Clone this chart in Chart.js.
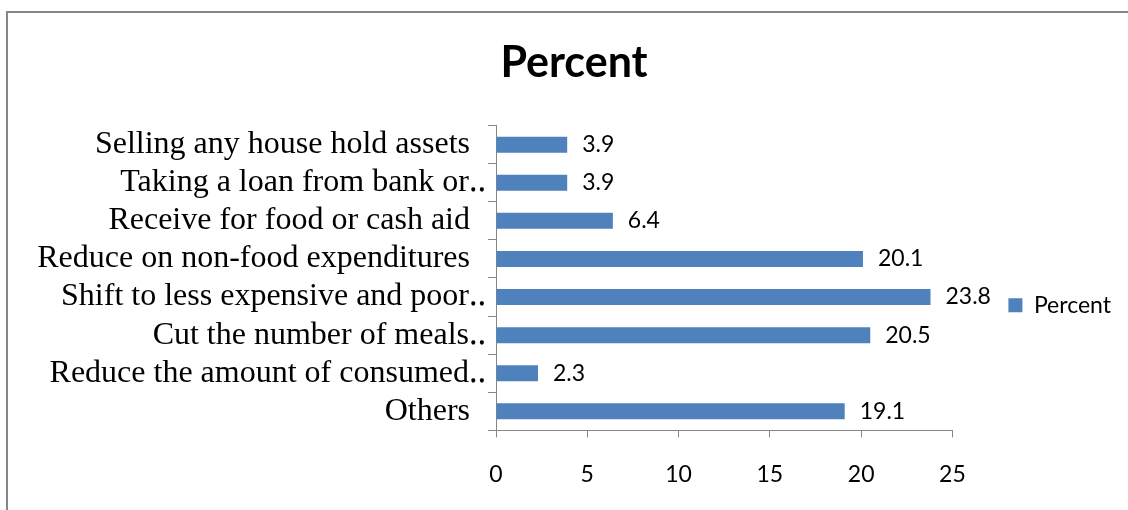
<!DOCTYPE html>
<html>
<head>
<meta charset="utf-8">
<script src="https://cdn.jsdelivr.net/npm/chart.js@4.4.1/dist/chart.umd.min.js"></script>
<style>
  html, body { margin: 0; padding: 0; background: #fff; overflow: hidden; }
  #frame { position: absolute; left: 6px; top: 11px; width: 1200px; height: 600px;
           border-left: 2px solid #878787; border-top: 2px solid #878787; pointer-events: none; }
  #chart { position: absolute; left: 0; top: 0; }
</style>
</head>
<body>
<canvas id="chart" width="1128" height="510"></canvas>
<div id="frame"></div>
<script>
var categories = [
    'Selling any house hold assets  ',
    'Taking a loan from bank or\u2025',
    'Receive for food or cash aid  ',
    'Reduce on non-food expenditures  ',
    'Shift to less expensive and poor\u2025',
    'Cut the number of meals\u2025',
    'Reduce the amount of consumed\u2025',
    'Others  '
];
var percent = [3.9, 3.9, 6.4, 20.1, 23.8, 20.5, 2.3, 19.1];
var xTicks = [0, 5, 10, 15, 20, 25];

var axisGrey = '#878787';
var barBlue = '#4f81bd';

// value labels to the right of each bar
var valueLabels = {
    id: 'valueLabels',
    afterDatasetsDraw: function (chart) {
        var ctx = chart.ctx;
        var meta = chart.getDatasetMeta(0);
        ctx.save();
        ctx.font = '23px Lato';
        ctx.fillStyle = '#000';
        ctx.textAlign = 'left';
        ctx.textBaseline = 'middle';
        meta.data.forEach(function (bar, i) {
            ctx.fillText(percent[i].toFixed(1), bar.x + 15, bar.y);
        });
        ctx.restore();
    }
};

var ctx = document.getElementById('chart');

var chart = new Chart(ctx, {
    type: 'bar',
    data: {
        labels: categories,
        datasets: [{
            label: 'Percent',
            data: percent,
            backgroundColor: barBlue,
            borderColor: barBlue,
            borderWidth: 0,
            barPercentage: 0.42,
            categoryPercentage: 1
        }]
    },
    options: {
        indexAxis: 'y',
        responsive: false,
        animation: false,
        layout: {
            padding: { left: 27, right: 7, top: 0, bottom: -1 }
        },
        scales: {
            x: {
                min: xTicks[0],
                max: xTicks[xTicks.length - 1],
                afterBuildTicks: function (scale) {
                    scale.ticks = xTicks.map(function (v) { return { value: v }; });
                },
                grid: { drawOnChartArea: false, color: axisGrey, tickLength: 7 },
                border: { color: axisGrey, width: 1 },
                ticks: {
                    color: '#000',
                    padding: 23,
                    font: { family: 'Lato', size: 23 }
                }
            },
            y: {
                afterFit: function (scale) { scale.width = 469; },
                grid: { drawOnChartArea: false, color: axisGrey, tickLength: 8, offset: true },
                border: { color: axisGrey, width: 1 },
                ticks: {
                    color: '#000',
                    padding: 2,
                    autoSkip: false,
                    font: { family: 'Liberation Serif', size: 32 }
                }
            }
        },
        plugins: {
            title: {
                display: true,
                text: 'Percent',
                color: '#000',
                font: { family: 'Lato', size: 43, weight: 'bold' },
                padding: { top: 37, bottom: 37 }
            },
            legend: {
                display: true,
                position: 'right',
                fullSize: false,
                title: { display: true, text: ' ', font: { size: 12 }, padding: 20 },
                labels: {
                    color: '#000',
                    boxWidth: 14,
                    boxHeight: 14,
                    padding: 56,
                    font: { family: 'Lato', size: 23 }
                }
            },
            tooltip: { enabled: false }
        }
    },
    plugins: [valueLabels]
});
</script>
</body>
</html>
